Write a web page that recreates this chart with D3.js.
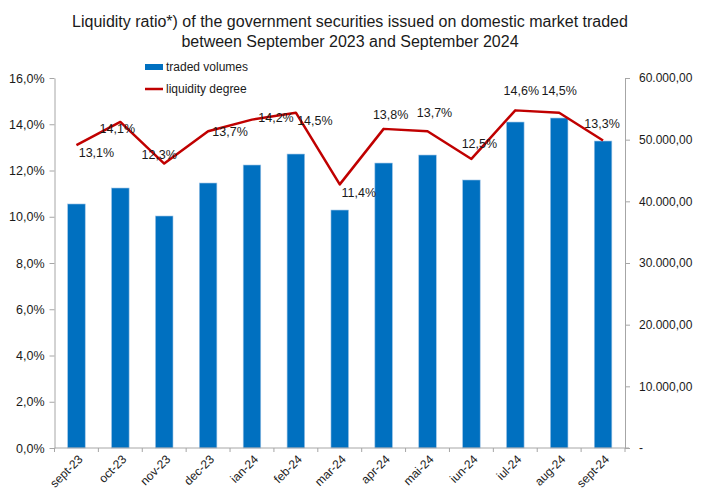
<!DOCTYPE html>
<html>
<head>
<meta charset="utf-8">
<script src="https://cdn.jsdelivr.net/npm/d3@7"></script>
<style>
  html, body { margin: 0; padding: 0; background: #fff; }
  svg { display: block; font-family: "Liberation Sans", Arial, sans-serif; }
</style>
</head>
<body>
<svg id="chart" width="701" height="494"></svg>
<script>
// ---- data ----
const months = ["sept-23","oct-23","nov-23","dec-23","ian-24","feb-24","mar-24","apr-24","mai-24","iun-24","iul-24","aug-24","sept-24"];
const tradedVolumes = [39570, 42160, 37620, 42970, 45890, 47670, 38590, 46210, 47510, 43460, 52860, 53510, 49780];
const liquidityDegree = [13.1, 14.1, 12.3, 13.7, 14.2, 14.5, 11.4, 13.8, 13.7, 12.5, 14.6, 14.5, 13.3];
const leftTicks = [0, 2, 4, 6, 8, 10, 12, 14, 16];
const rightTicks = [0, 10000, 20000, 30000, 40000, 50000, 60000];
const titleLines = ["Liquidity ratio*) of the government securities issued on domestic market traded",
                    "between September 2023 and September 2024"];
const legendLabels = ["traded volumes", "liquidity degree"];

// ---- layout (label placement offsets, px) ----
const labelOffsets = [[20,8],[-3,7],[-5,-9],[22,1],[24,-2],[19,8],[19,9],[7,-14],[7,-18],[8,-15],[6,-19],[0,-22],[-1,-16]];

const BAR = "#0070C0", LINE = "#C00000", AXIS = "#A6A6A6", TEXT = "#1a1a1a";
const svg = d3.select("#chart");
const pL = 54.5, pR = 625, pT = 78, pB = 448;

const x = d3.scaleBand().domain(months).range([pL, pR]).paddingInner(0.6).paddingOuter(0.3);
const yL = d3.scaleLinear().domain([0, 16]).range([pB, pT]);
const yR = d3.scaleLinear().domain([0, 60000]).range([pB, pT]);

const locale = d3.formatLocale({decimal: ",", thousands: ".", grouping: [3], currency: ["", ""]});
const fmtPct = v => locale.format(".1f")(v) + "%";
const fmtVol = v => v === 0 ? "-" : locale.format(",.2f")(v);

// title
svg.append("g").selectAll("text").data(titleLines).join("text")
  .attr("x", 350).attr("y", (d, i) => 21 + i * 20)
  .attr("text-anchor", "middle").attr("dominant-baseline", "central")
  .attr("font-size", 16).attr("fill", TEXT).text(d => d);

// bars
svg.append("g").selectAll("rect").data(months).join("rect")
  .attr("x", d => x(d)).attr("width", x.bandwidth())
  .attr("y", (d, i) => yR(tradedVolumes[i]))
  .attr("height", (d, i) => yR(0) - yR(tradedVolumes[i]))
  .attr("fill", BAR).attr("stroke", "#9DC3E6").attr("stroke-width", 0.6);

// left axis
const gL = svg.append("g").attr("transform", `translate(${pL},0)`)
  .call(d3.axisLeft(yL).tickValues(leftTicks).tickFormat(fmtPct).tickSize(5).tickSizeOuter(0).tickPadding(5));
// right axis
const gR = svg.append("g").attr("transform", `translate(${pR},0)`)
  .call(d3.axisRight(yR).tickValues(rightTicks).tickFormat(fmtVol).tickSize(5).tickSizeOuter(0).tickPadding(9));
[gL, gR].forEach(g => {
  g.select(".domain").attr("stroke", AXIS);
  g.selectAll(".tick line").attr("stroke", AXIS);
  g.selectAll(".tick text").attr("fill", TEXT).attr("font-size", 12.5).attr("font-family", "Liberation Sans, Arial, sans-serif");
});
gR.selectAll(".tick text").attr("font-size", 12);

// bottom axis
const gB = svg.append("g");
gB.append("line").attr("x1", pL).attr("x2", pR + 4).attr("y1", pB).attr("y2", pB).attr("stroke", AXIS);
const half = (x.step() - x.bandwidth()) / 2;
const bounds = months.map(d => x(d) - half).concat([x(months[months.length - 1]) + x.bandwidth() + half]);
gB.selectAll("line.tk").data(bounds).join("line").attr("class", "tk")
  .attr("x1", d => d).attr("x2", d => d).attr("y1", pB).attr("y2", pB + 4).attr("stroke", AXIS);
gB.selectAll("text").data(months).join("text")
  .attr("transform", d => `translate(${x(d) + x.bandwidth() / 2 + 4},${pB + 9}) rotate(-45)`)
  .attr("text-anchor", "end").attr("dy", "0.35em")
  .attr("font-size", 12).attr("fill", TEXT).text(d => d);

// line
const cx = (d, i) => x(months[i]) + x.bandwidth() / 2;
svg.append("path").datum(liquidityDegree)
  .attr("d", d3.line().x(cx).y(d => yL(d)))
  .attr("fill", "none").attr("stroke", LINE).attr("stroke-width", 2.5).attr("stroke-linejoin", "round");

// data labels
svg.append("g").selectAll("text").data(liquidityDegree).join("text")
  .attr("x", (d, i) => cx(d, i) + labelOffsets[i][0])
  .attr("y", (d, i) => yL(d) + labelOffsets[i][1])
  .attr("text-anchor", "middle").attr("dominant-baseline", "central")
  .attr("font-size", 12.5).attr("fill", TEXT).text(d => fmtPct(d));

// legend
const lg = svg.append("g");
lg.append("rect").attr("x", 145).attr("y", 64).attr("width", 18).attr("height", 6).attr("fill", BAR);
lg.append("line").attr("x1", 145).attr("x2", 163).attr("y1", 89).attr("y2", 89).attr("stroke", LINE).attr("stroke-width", 2.5);
lg.selectAll("text").data(legendLabels).join("text")
  .attr("x", 166).attr("y", (d, i) => 67 + i * 22)
  .attr("dominant-baseline", "central").attr("font-size", 12).attr("fill", TEXT).text(d => d);
</script>
</body>
</html>
